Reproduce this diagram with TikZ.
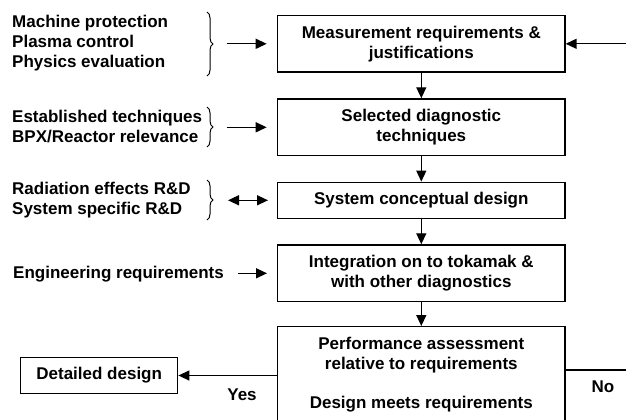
\documentclass[tikz,border=0pt]{standalone}
\usepackage{fontspec}
\setmainfont{Liberation Sans}
\usetikzlibrary{arrows.meta,decorations.pathreplacing,calc}
\begin{document}
\begin{tikzpicture}[x=1pt,y=-1pt,
  font=\fontsize{17}{20}\selectfont\bfseries,
  box/.style={draw,line width=1.4pt,minimum width=287.3pt,align=center,inner sep=0pt},
  lbl/.style={align=left,anchor=west,inner sep=0pt},
  tip/.tip={Triangle[length=11pt,width=10pt]},
  arr/.style={line width=1.4pt,-tip},
  dbl/.style={line width=1.4pt,tip-tip},
  brc/.style={line width=1pt,decorate,decoration={brace,amplitude=6pt}}]
\useasboundingbox (0,0) rectangle (626,420);
\clip (0,0) rectangle (626,420);
% main boxes
\node[box,minimum height=56.3pt] (meas) at (421.3,43.8) {Measurement requirements \&\\justifications};
\node[box,minimum height=56.7pt] (sel) at (421.3,127.3) {Selected diagnostic\\techniques};
\node[box,minimum height=36pt] (sys) at (421.3,200.3) {System conceptual design};
\node[box,minimum height=56.7pt] (integ) at (421.3,273.3) {Integration on to tokamak \&\\with other diagnostics};
\node[box,minimum height=95.6pt] (perf) at (421.3,374.5) {Performance assessment\\relative to requirements\\[19pt]Design meets requirements};
\node[box,minimum width=157pt,minimum height=35.6pt] (det) at (99.2,375.5) {Detailed design};
% left labels
\node[lbl] (l1) at (12,43.3) {Machine protection\\Plasma control\\Physics evaluation};
\node[lbl] (l2) at (12,127) {Established techniques\\BPX/Reactor relevance};
\node[lbl] (l3) at (12,200.3) {Radiation effects R\&D\\System specific R\&D};
\node[lbl] (l4) at (13,274) {Engineering requirements};
% braces
\draw[brc] (207,12) -- (207,76);
\draw[brc] (207,107) -- (207,147);
\draw[brc] (207,180) -- (207,220);
% side arrows
\coordinate (a1) at (226.7,43.8); \coordinate (b1) at (266.7,43.8);
\coordinate (a2) at (226.7,127.3); \coordinate (b2) at (266.7,127.3);
\coordinate (a3) at (228,200.3); \coordinate (b3) at (268,200.3);
\coordinate (a4) at (238,273.3); \coordinate (b4) at (267,273.3);
\draw[arr] (a1) -- (b1);
\draw[arr] (a2) -- (b2);
\draw[dbl] (a3) -- (b3);
\draw[arr] (a4) -- (b4);
% vertical flow
\draw[arr] (meas) -- (sel);
\draw[arr] (sel) -- (sys);
\draw[arr] (sys) -- (integ);
\draw[arr] (integ) -- (perf);
% loop and exits
\coordinate (r1) at (626,43.8);
\coordinate (r2) at (626,370);
\draw[arr] (r1) -- (meas.east);
\draw[line width=1.4pt] (perf.east |- r2) -- (r2);
\draw[arr] (perf.west |- det.east) -- (det.east);
\node (yes) at (242,395) {Yes};
\node (no) at (603,387) {No};
\end{tikzpicture}
\end{document}
